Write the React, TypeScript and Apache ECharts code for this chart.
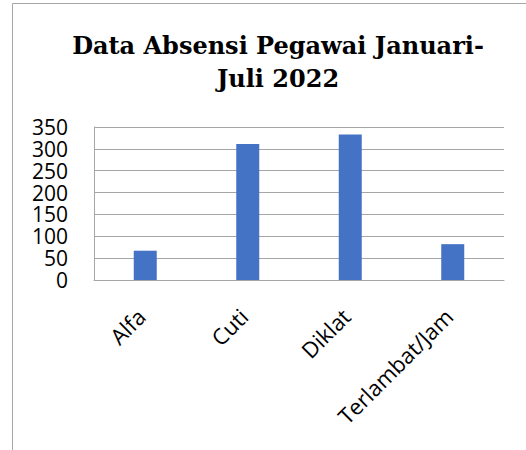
import React, { useEffect, useRef } from "react";
import * as echarts from "echarts";

const categories = ["Alfa", "Cuti", "Diklat", "Terlambat/Jam"];
const values = [67, 311, 333, 82];
const titleText = "Data Absensi Pegawai Januari-\nJuli 2022";

export default function App() {
  const ref = useRef<HTMLDivElement>(null);
  useEffect(() => {
    if (!ref.current) return;
    const chart = echarts.init(ref.current, undefined, { renderer: "svg" });
    chart.setOption({
      animation: false,
      backgroundColor: "#ffffff",
      title: {
        text: titleText,
        left: 273,
        top: 24,
        textAlign: "center",
        textStyle: {
          fontFamily: "'DejaVu Serif', serif",
          fontWeight: "bold",
          fontSize: 24,
          color: "#000000",
          lineHeight: 33,
        },
      },
      graphic: [
        {
          type: "rect",
          shape: { x: 12.5, y: 3.5, width: 700, height: 700 },
          style: { fill: "none", stroke: "#a6a6a6", lineWidth: 1 },
          silent: true,
        },
      ],
      grid: { left: 94, right: 22, top: 127, bottom: 170, containLabel: false },
      xAxis: {
        type: "category",
        data: categories,
        axisLine: { show: true, lineStyle: { color: "#a6a6a6", width: 1 } },
        axisTick: { show: false },
        axisLabel: {
          rotate: 45,
          margin: 28,
          padding: [0, 6, 0, 0],
          interval: 0,
          color: "#000000",
          fontFamily: "'Open Sans', sans-serif",
          fontSize: 22,
        },
      },
      yAxis: {
        type: "value",
        min: 0,
        max: 350,
        interval: 50,
        axisLine: { show: true, lineStyle: { color: "#a6a6a6", width: 1 } },
        axisTick: { show: false },
        splitLine: { show: true, lineStyle: { color: "#a6a6a6", width: 1 } },
        axisLabel: {
          margin: 26,
          color: "#000000",
          fontFamily: "'Open Sans', sans-serif",
          fontSize: 21,
          lineHeight: 20,
        },
      },
      series: [
        {
          type: "bar",
          data: values,
          barWidth: 23,
          itemStyle: { color: "#4472c4" },
        },
      ],
    });
    return () => chart.dispose();
  }, []);
  return (
    <div
      ref={ref}
      style={{ position: "fixed", left: 0, top: 0, width: 526, height: 450 }}
    />
  );
}
